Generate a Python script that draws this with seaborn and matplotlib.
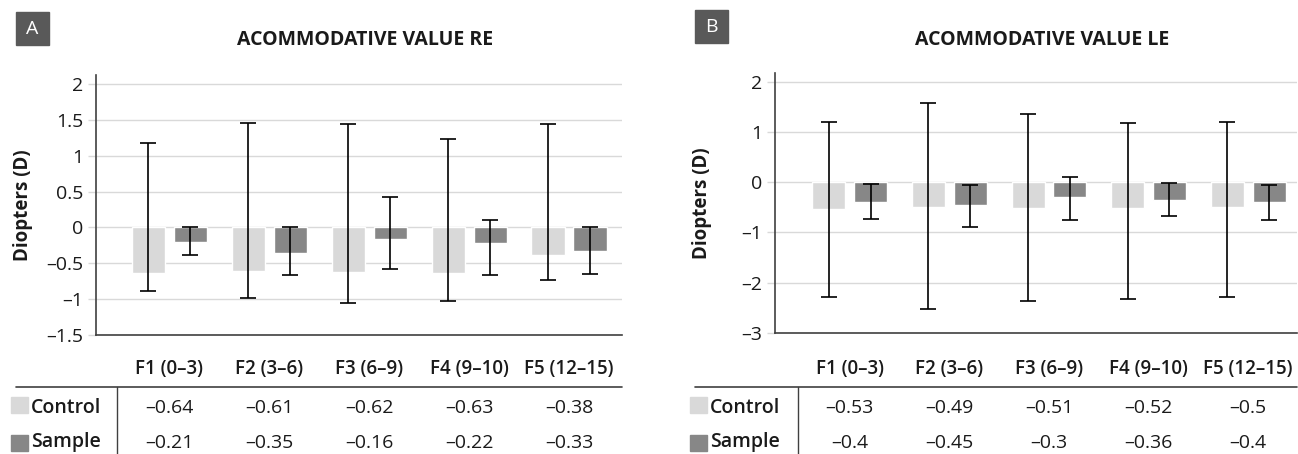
import pandas as pd
import seaborn as sns
import matplotlib.pyplot as plt
from matplotlib import transforms
from matplotlib.patches import Rectangle
from matplotlib.lines import Line2D

# Age groups
groups = ['F1 (0–3)', 'F2 (3–6)', 'F3 (6–9)', 'F4 (9–10)', 'F5 (12–15)']

# Right eye means
re_control = [-0.64, -0.61, -0.62, -0.63, -0.38]
re_sample = [-0.21, -0.35, -0.16, -0.22, -0.33]
# Right eye error bar ends
re_control_low = [-0.88, -0.99, -1.06, -1.02, -0.73]
re_control_high = [1.18, 1.46, 1.44, 1.23, 1.44]
re_sample_low = [-0.38, -0.67, -0.58, -0.67, -0.65]
re_sample_high = [0.0, 0.01, 0.43, 0.10, 0.0]

# Left eye means
le_control = [-0.53, -0.49, -0.51, -0.52, -0.5]
le_sample = [-0.4, -0.45, -0.3, -0.36, -0.4]
# Left eye error bar ends
le_control_low = [-2.28, -2.52, -2.37, -2.32, -2.28]
le_control_high = [1.19, 1.58, 1.35, 1.18, 1.20]
le_sample_low = [-0.74, -0.90, -0.75, -0.67, -0.75]
le_sample_high = [-0.03, -0.06, 0.10, -0.02, -0.05]

re_ticks = [-1.5, -1, -0.5, 0, 0.5, 1, 1.5, 2]
le_ticks = [-3, -2, -1, 0, 1, 2]

colors = {'Control': '#d9d9d9', 'Sample': '#878787'}
dark = '#404040'
ink = '#1a1a1a'

sns.set_theme(style='white')
plt.rcParams['font.family'] = ['Open Sans', 'DejaVu Sans']

W, H = 1298, 454
fig = plt.figure(figsize=(W / 100, H / 100), dpi=100)


def dash(v):
    return f'{v:g}'.replace('-', '–')


def panel(box, control, sample, c_low, c_high, s_low, s_high, ticks, ylim, xlim,
          title, title_x, letter, letter_box, tab_left, vline_x):
    left, top, right, bottom = box
    ax = fig.add_axes([left / W, 1 - bottom / H, (right - left) / W, (bottom - top) / H])

    df = pd.DataFrame({
        'Group': groups * 2,
        'Type': ['Control'] * 5 + ['Sample'] * 5,
        'Value': control + sample,
    })
    sns.barplot(data=df, x='Group', y='Value', hue='Type', order=groups,
                hue_order=['Control', 'Sample'], palette=colors, width=0.84,
                gap=0.21, errorbar=None, legend=False, ax=ax, zorder=2)

    # asymmetric error bars on top of each bar
    for cont, means, lo, hi in zip(ax.containers, [control, sample],
                                   [c_low, s_low], [c_high, s_high]):
        xs = [b.get_x() + b.get_width() / 2 for b in cont]
        yerr = [[m - l for m, l in zip(means, lo)], [h - m for m, h in zip(means, hi)]]
        ax.errorbar(xs, means, yerr=yerr, fmt='none', ecolor='black',
                    elinewidth=1.2, capsize=6, capthick=1.2, zorder=3)

    ax.set_xlim(*xlim)
    ax.set_ylim(*ylim)
    ax.set_yticks(ticks)
    ax.set_yticklabels([dash(t) for t in ticks], fontsize=14, color=ink)
    ax.set_xticks([])
    ax.set_xlabel('')
    ax.set_ylabel('Diopters (D)', fontsize=13.5, fontweight='bold', color=ink)
    ax.yaxis.set_label_coords(-0.12, 0.5)
    ax.yaxis.grid(True, color='#d9d9d9', lw=1.0)
    ax.set_axisbelow(True)
    ax.tick_params(axis='y', left=True, length=6, width=1, color='#d9d9d9', pad=3)
    for s in ['top', 'right']:
        ax.spines[s].set_visible(False)
    for s in ['left', 'bottom']:
        ax.spines[s].set_color(dark)
        ax.spines[s].set_linewidth(1.2)

    fig.text(title_x / W, 1 - 40 / H, title, ha='center', va='center',
             fontsize=14, fontweight='bold', color=ink)

    lx, ly, ls = letter_box
    fig.add_artist(Rectangle((lx / W, 1 - (ly + ls) / H), ls / W, ls / H,
                             transform=fig.transFigure, color='#595959'))
    fig.text((lx + ls / 2) / W, 1 - (ly + ls / 2) / H, letter, ha='center',
             va='center', fontsize=14, color='white')

    # data table under the chart
    tr = transforms.blended_transform_factory(ax.transData, fig.transFigure)
    for i, g in enumerate(groups):
        fig.text(i, 1 - 374 / H, g, transform=tr, ha='center', va='baseline',
                 fontsize=13.5, fontweight='semibold', color=ink)
        fig.text(i, 1 - 413 / H, dash(control[i]), transform=tr, ha='center',
                 va='baseline', fontsize=14, color=ink)
        fig.text(i, 1 - 447.5 / H, dash(sample[i]), transform=tr, ha='center',
                 va='baseline', fontsize=14, color=ink)

    fig.add_artist(Line2D([(tab_left + 5) / W, right / W], [1 - 386.7 / H] * 2,
                          transform=fig.transFigure, color=dark, lw=1.2))
    fig.add_artist(Line2D([vline_x / W] * 2, [1 - 386.7 / H, 0],
                          transform=fig.transFigure, color=dark, lw=1.0))
    for name, ytop, base in [('Control', 397, 413), ('Sample', 435, 447.5)]:
        fig.add_artist(Rectangle((tab_left / W, 1 - (ytop + 16) / H), 17 / W, 16 / H,
                                 transform=fig.transFigure, color=colors[name]))
        fig.text((tab_left + 20) / W, 1 - base / H, name, ha='left', va='baseline',
                 fontsize=14, fontweight='semibold', color=ink)
    return ax


panel((96, 75, 622, 335), re_control, re_sample, re_control_low, re_control_high,
      re_sample_low, re_sample_high, re_ticks, (-1.5, 2.125), (-0.735, 4.53),
      'ACOMMODATIVE VALUE RE', 365, 'A', (16, 12, 33), 11, 117)
panel((775, 73, 1297, 333), le_control, le_sample, le_control_low, le_control_high,
      le_sample_low, le_sample_high, le_ticks, (-3, 2.17), (-0.75, 4.49),
      'ACOMMODATIVE VALUE LE', 1042, 'B', (695, 10, 33), 690, 798)

fig.savefig('out.png', dpi=100)
